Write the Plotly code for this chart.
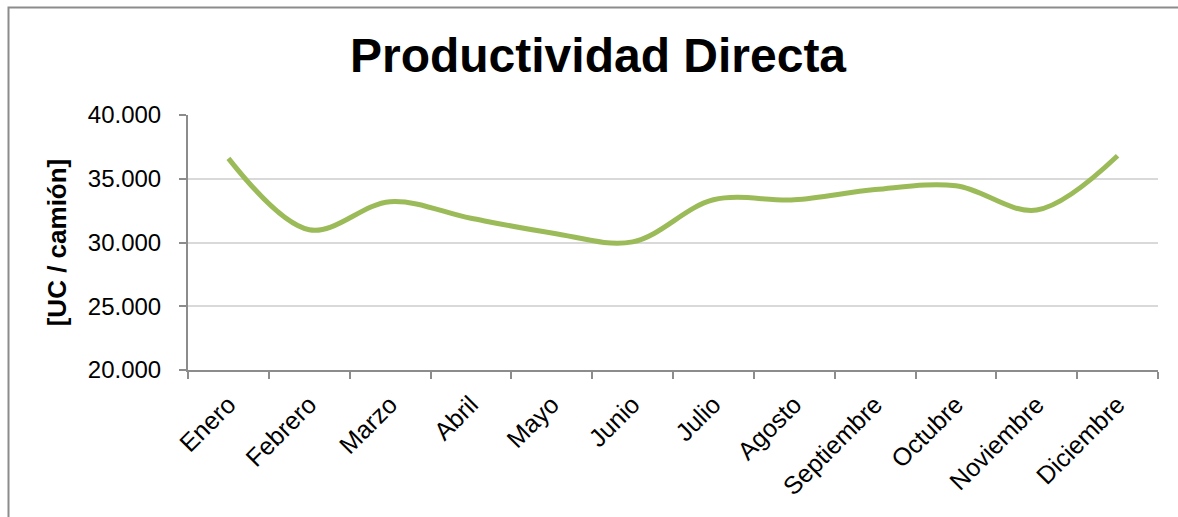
import plotly.graph_objects as go

# Monthly direct productivity, units per truck
meses = ["Enero", "Febrero", "Marzo", "Abril", "Mayo", "Junio", "Julio",
         "Agosto", "Septiembre", "Octubre", "Noviembre", "Diciembre"]
productividad = [36600, 31000, 33200, 31900, 30750, 30050, 33350,
                 33350, 34150, 34450, 32550, 36800]

y_ticks = [20000, 25000, 30000, 35000, 40000]

FONT = "Liberation Sans, Arial, sans-serif"
GREEN = "#9BBB59"
AXIS_GRAY = "#8C8C8C"
GRID_GRAY = "#D9D9D9"

fig = go.Figure()
fig.add_trace(go.Scatter(
    x=meses,
    y=productividad,
    mode="lines",
    line=dict(color=GREEN, width=5, shape="spline", smoothing=1.0),
    hoverinfo="x+y",
))

W, H = 1178, 517
L, R, T, B = 188, 20, 115, 147
pw, ph = W - L - R, H - T - B

def px_to_paper_x(px):
    return (px - L) / pw

def px_to_paper_y(py):
    return (H - B - py) / ph

fig.update_layout(
    width=W,
    height=H,
    margin=dict(l=L, r=R, t=T, b=B, pad=0),
    paper_bgcolor="white",
    plot_bgcolor="white",
    separators=",.",
    showlegend=False,
    font=dict(family=FONT, color="black", size=24),
    title=dict(
        text="<b>Productividad Directa</b>",
        font=dict(family=FONT, size=48, color="black"),
        xref="container", x=598 / W, xanchor="center",
        yref="container", y=1 - 55 / H, yanchor="middle",
    ),
    xaxis=dict(
        type="category",
        range=[-0.5, len(meses) - 0.5],
        tickangle=-45,
        tickson="boundaries",
        ticks="outside",
        ticklen=7,
        tickwidth=2,
        tickcolor=AXIS_GRAY,
        ticklabelstandoff=8,
        showline=True,
        linecolor=AXIS_GRAY,
        linewidth=2,
        showgrid=False,
        tickfont=dict(family=FONT, size=25, color="black"),
    ),
    yaxis=dict(
        range=[y_ticks[0], y_ticks[-1]],
        tickvals=y_ticks,
        tickformat=",d",
        ticks="outside",
        ticklen=7,
        tickwidth=2,
        tickcolor=AXIS_GRAY,
        ticklabelstandoff=13,
        showline=True,
        linecolor=AXIS_GRAY,
        linewidth=2,
        showgrid=True,
        gridcolor=GRID_GRAY,
        gridwidth=2,
        zeroline=False,
        tickfont=dict(family=FONT, size=24, color="black"),
        title=dict(
            text="<b>[UC / camión]</b>",
            font=dict(family=FONT, size=26, color="black"),
            standoff=14,
        ),
    ),
)

# Chart frame around the whole figure
fig.add_shape(
    type="rect",
    xref="paper", yref="paper",
    x0=px_to_paper_x(8.5), x1=px_to_paper_x(1185),
    y0=px_to_paper_y(525), y1=px_to_paper_y(7.5),
    line=dict(color=AXIS_GRAY, width=2),
    fillcolor="rgba(0,0,0,0)",
    layer="below",
)

fig.write_html("out.html")
